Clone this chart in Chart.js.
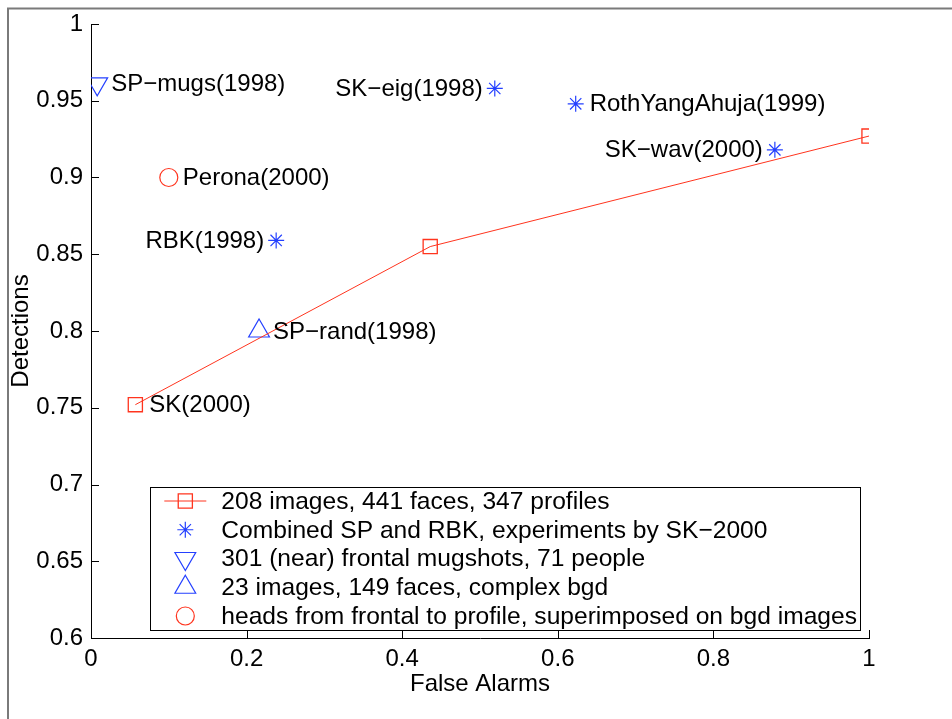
<!DOCTYPE html>
<html>
<head>
<meta charset="utf-8">
<script src="https://cdn.jsdelivr.net/npm/chart.js@4"></script>
<style>
  html, body { margin: 0; padding: 0; background: #fff; }
  #wrap { width: 952px; height: 719px; }
</style>
</head>
<body>
<div id="wrap"><canvas id="myChart" width="952" height="719"></canvas></div>
<script>
// data
const curveX = [0.057, 0.436, 1.0];
const curveY = [0.752, 0.855, 0.927];
const curveNames = ['SK(2000)', '', ''];

const starX = [0.519, 0.623, 0.879, 0.238];
const starY = [0.958, 0.948, 0.918, 0.859];
const starNames = ['SK\u2212eig(1998)', 'RothYangAhuja(1999)', 'SK\u2212wav(2000)', 'RBK(1998)'];
const starSide = ['left', 'right', 'left', 'left'];

const mugX = [0.008];
const mugY = [0.961];
const mugNames = ['SP\u2212mugs(1998)'];

const randX = [0.216];
const randY = [0.800];
const randNames = ['SP\u2212rand(1998)'];

const peronaX = [0.100];
const peronaY = [0.900];
const peronaNames = ['Perona(2000)'];

const legendLabels = [
  '208 images, 441 faces, 347 profiles',
  'Combined SP and RBK, experiments by SK\u22122000',
  '301 (near) frontal mugshots, 71 people',
  '23 images, 149 faces, complex bgd',
  'heads from frontal to profile, superimposed on bgd images'
];

const xTicks = [0, 0.2, 0.4, 0.6, 0.8, 1];
const yTicks = [0.6, 0.65, 0.7, 0.75, 0.8, 0.85, 0.9, 0.95, 1];

const RED = 'rgb(255,52,30)';
const BLUE = 'rgb(36,64,255)';
const FONT = '"Liberation Sans", Arial, Helvetica, sans-serif';
const FS = 24;
const LEG_FS = 24.6;

function pts(xs, ys) {
  return xs.map(function(x, i){ return {x: x, y: ys[i]}; });
}

// matlab style numbers: 1, 0.95, 0.2 ...
function fmt(v) {
  return String(parseFloat(v.toFixed(2)));
}

const data = {
  datasets: [
    { label: legendLabels[0], data: pts(curveX, curveY), names: curveNames, side: ['right','right','right'],
      showLine: true, borderColor: RED, borderWidth: 1, pointStyle: 'rect', pointRadius: 10,
      pointBorderColor: RED, pointBackgroundColor: 'rgba(0,0,0,0)', pointBorderWidth: 1.3 },
    { label: legendLabels[1], data: pts(starX, starY), names: starNames, side: starSide,
      showLine: false, pointStyle: 'star', pointRadius: 8,
      pointBorderColor: BLUE, pointBackgroundColor: BLUE, pointBorderWidth: 1.2 },
    { label: legendLabels[2], data: pts(mugX, mugY), names: mugNames, side: ['right'],
      showLine: false, pointStyle: 'triangle', pointRotation: 180, pointRadius: 12,
      pointBorderColor: BLUE, pointBackgroundColor: 'rgba(0,0,0,0)', pointBorderWidth: 1.2 },
    { label: legendLabels[3], data: pts(randX, randY), names: randNames, side: ['right'],
      showLine: false, pointStyle: 'triangle', pointRadius: 12,
      pointBorderColor: BLUE, pointBackgroundColor: 'rgba(0,0,0,0)', pointBorderWidth: 1.2 },
    { label: legendLabels[4], data: pts(peronaX, peronaY), names: peronaNames, side: ['right'],
      showLine: false, pointStyle: 'circle', pointRadius: 9,
      pointBorderColor: RED, pointBackgroundColor: 'rgba(0,0,0,0)', pointBorderWidth: 1.2 }
  ]
};

// frame, inward ticks, point labels, boxed legend
const extras = {
  id: 'extras',
  beforeDraw(chart) {
    const ctx = chart.ctx;
    ctx.save();
    ctx.strokeStyle = '#7a7a7a';
    ctx.lineWidth = 2;
    ctx.beginPath();
    ctx.moveTo(8, 719); ctx.lineTo(8, 8.5); ctx.lineTo(952, 8.5);
    ctx.stroke();
    ctx.restore();
  },
  afterDatasetsDraw(chart) {
    const ctx = chart.ctx;
    const xs = chart.scales.x, ys = chart.scales.y;
    const a = chart.chartArea;
    ctx.save();
    ctx.strokeStyle = '#000';
    ctx.lineWidth = 1;
    ctx.beginPath();
    xTicks.forEach(function(v){
      const px = Math.round(xs.getPixelForValue(v)) + 0.5;
      ctx.moveTo(px, a.bottom); ctx.lineTo(px, a.bottom - 8);
    });
    yTicks.forEach(function(v){
      const py = Math.round(ys.getPixelForValue(v)) + 0.5;
      ctx.moveTo(a.left, py); ctx.lineTo(a.left + 8, py);
    });
    ctx.stroke();

    // point labels
    ctx.fillStyle = '#000';
    ctx.font = FS + 'px ' + FONT;
    ctx.textBaseline = 'middle';
    chart.data.datasets.forEach(function(ds, di){
      const meta = chart.getDatasetMeta(di);
      meta.data.forEach(function(el, i){
        const name = ds.names[i];
        if (!name) return;
        if (ds.side[i] === 'left') {
          ctx.textAlign = 'right';
          ctx.fillText(name, el.x - 12, el.y + 1);
        } else {
          ctx.textAlign = 'left';
          ctx.fillText(name, el.x + 14, el.y + 1);
        }
      });
    });

    // legend box
    ctx.font = LEG_FS + 'px ' + FONT;
    const rowH = 28.75;
    let tw = 0;
    chart.data.datasets.forEach(function(ds){ tw = Math.max(tw, ctx.measureText(ds.label).width); });
    const bx1 = a.right - 9, by2 = a.bottom - 8;
    const bw = tw + 74, bh = 143;
    const bx0 = bx1 - bw, by0 = by2 - bh;
    ctx.fillStyle = '#fff';
    ctx.fillRect(bx0, by0, bw, bh);
    ctx.strokeStyle = '#000';
    ctx.lineWidth = 1;
    ctx.strokeRect(Math.round(bx0) + 0.5, Math.round(by0) + 0.5, Math.round(bw), Math.round(bh));
    chart.data.datasets.forEach(function(ds, di){
      const cy = by0 + 14 + di * rowH;
      const cx = bx0 + 35;
      if (ds.showLine) {
        ctx.strokeStyle = ds.borderColor;
        ctx.lineWidth = 1;
        ctx.beginPath(); ctx.moveTo(cx - 21, cy); ctx.lineTo(cx + 21, cy); ctx.stroke();
      }
      ctx.strokeStyle = ds.pointBorderColor;
      ctx.fillStyle = ds.pointBackgroundColor;
      ctx.lineWidth = ds.pointBorderWidth;
      Chart.helpers.drawPoint(ctx, {pointStyle: ds.pointStyle, rotation: ds.pointRotation || 0,
        radius: ds.pointRadius, borderWidth: ds.pointBorderWidth}, cx, cy);
      ctx.fillStyle = '#000';
      ctx.textAlign = 'left';
      ctx.fillText(ds.label, bx0 + 71, cy + 1);
    });
    ctx.restore();
  }
};

const config = {
  type: 'scatter',
  data,
  options: {
    responsive: false,
    animation: false,
    layout: { padding: { top: 24, right: 83, left: 0, bottom: 0 } },
    plugins: { legend: { display: false }, tooltip: { enabled: false } },
    scales: {
      x: {
        type: 'linear', min: 0, max: 1,
        afterFit: function(s){ s.height = 81; },
        afterBuildTicks: function(s){ s.ticks = xTicks.map(function(v){ return {value: v}; }); },
        grid: { drawOnChartArea: false, drawTicks: false },
        border: { display: true, color: '#000', width: 1 },
        ticks: { color: '#000', padding: 7, maxRotation: 0, font: { family: FONT, size: FS },
                 callback: function(v){ return fmt(v); } },
        title: { display: true, text: 'False Alarms', color: '#000', padding: { top: 0, bottom: 20 },
                 font: { family: FONT, size: FS } }
      },
      y: {
        type: 'linear', min: 0.6, max: 1,
        afterFit: function(s){ s.width = 91; },
        afterBuildTicks: function(s){ s.ticks = yTicks.map(function(v){ return {value: v}; }); },
        grid: { drawOnChartArea: false, drawTicks: false },
        border: { display: true, color: '#000', width: 1 },
        ticks: { color: '#000', padding: 8, font: { family: FONT, size: FS },
                 callback: function(v){ return fmt(v); } },
        title: { display: true, text: 'Detections', color: '#000', padding: { top: 7, bottom: 0 },
                 font: { family: FONT, size: FS } }
      }
    }
  },
  plugins: [extras]
};

const myChart = new Chart(document.getElementById('myChart'), config);
</script>
</body>
</html>
